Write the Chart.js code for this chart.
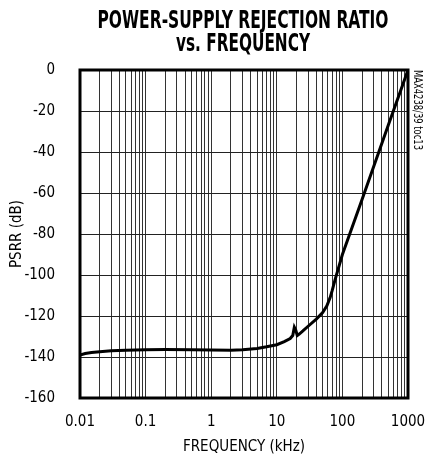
<!DOCTYPE html>
<html>
<head>
<meta charset="utf-8">
<script src="https://cdn.jsdelivr.net/npm/chart.js@4"></script>
<style>
  html, body { margin: 0; padding: 0; background: #fff; }
  #wrap { width: 426px; height: 462px; }
</style>
</head>
<body>
<div id="wrap"><canvas id="psrr" width="426" height="462"></canvas></div>
<script>
// PSRR vs frequency
const freqKHz = [0.01, 0.012, 0.015, 0.02, 0.03, 0.05, 0.1, 0.2, 0.5, 1, 2, 3, 5, 7, 10, 13, 16, 17.5, 18.5, 19.5, 20.5, 22, 25, 30, 40, 50, 58, 65, 70, 77, 100, 200, 500, 1000];
const psrrDb  = [-139, -138.3, -137.8, -137.4, -137, -136.7, -136.5, -136.4, -136.5, -136.6, -136.7, -136.5, -135.8, -135, -134, -132.5, -131, -129.5, -125.5, -127, -129.5, -128.8, -127.3, -125, -121.5, -118.3, -115, -111, -107.5, -102.5, -90, -63, -27, 0];

const decades = [0.01, 0.1, 1, 10, 100, 1000];
const xTickLabels = ['0.01', '0.1', '1', '10', '100', '1000'];
const yTicks = [0, -20, -40, -60, -80, -100, -120, -140, -160];

const titleLines = ['POWER-SUPPLY REJECTION RATIO', 'vs. FREQUENCY'];
const xTitle = 'FREQUENCY (kHz)';
const yTitle = 'PSRR (dB)';
const sideNote = 'MAX4238/39 toc13';

const NARROW = '"Liberation Sans Narrow", "DejaVu Sans Condensed", "Liberation Sans", sans-serif';

// grid lines at 1..9 x each decade
const gridFreqs = [];
decades.forEach((d, i) => {
  if (i === decades.length - 1) { gridFreqs.push(d); return; }
  for (let m = 1; m < 10; m++) gridFreqs.push(+(d * m).toPrecision(3));
});

const extras = {
  id: 'extras',
  afterDraw(chart) {
    const { ctx, chartArea: a } = chart;
    ctx.save();
    // frame
    ctx.strokeStyle = '#000';
    ctx.lineWidth = 3;
    ctx.strokeRect(a.left, a.top, a.right - a.left, a.bottom - a.top);
    // title
    ctx.fillStyle = '#000';
    ctx.textAlign = 'center';
    ctx.textBaseline = 'alphabetic';
    ctx.font = 'bold 25px ' + NARROW;
    ctx.fillText(titleLines[0], 243, 28, 291);
    ctx.fillText(titleLines[1], 243, 51, 134);
    // side note, rotated
    ctx.font = '12px ' + NARROW;
    ctx.translate(417, 70);
    ctx.rotate(Math.PI / 2);
    ctx.textAlign = 'left';
    ctx.textBaseline = 'middle';
    ctx.fillText(sideNote, 0, 0, 80);
    ctx.restore();
  }
};

new Chart(document.getElementById('psrr'), {
  type: 'scatter',
  data: {
    datasets: [{
      data: freqKHz.map((f, i) => ({ x: f, y: psrrDb[i] })),
      showLine: true,
      borderColor: '#000',
      borderWidth: 3,
      pointRadius: 0,
      tension: 0
    }]
  },
  options: {
    responsive: false,
    animation: false,
    layout: { padding: { left: 0, right: 18, top: 70, bottom: 0 } },
    plugins: { legend: { display: false }, tooltip: { enabled: false } },
    scales: {
      x: {
        type: 'logarithmic',
        min: 0.01,
        max: 1000,
        afterBuildTicks: s => { s.ticks = gridFreqs.map(v => ({ value: v })); },
        afterFit: s => { s.height = 64; s.paddingLeft = 0; s.paddingRight = 0; },
        grid: { color: '#333', lineWidth: 1, drawTicks: false },
        border: { display: false },
        ticks: {
          autoSkip: false,
          maxRotation: 0,
          padding: 15,
          color: '#000',
          font: { family: NARROW, size: 15 },
          callback: v => {
            const i = decades.findIndex(d => Math.abs(d - v) / d < 1e-6);
            return i >= 0 ? xTickLabels[i] : '';
          }
        },
        title: { display: true, text: xTitle, color: '#000', font: { family: NARROW, size: 15 }, padding: { top: 3, bottom: 6 } }
      },
      y: {
        min: -160,
        max: 0,
        afterBuildTicks: s => { s.ticks = yTicks.map(v => ({ value: v })); },
        afterFit: s => { s.width = 80; s.paddingTop = 0; s.paddingBottom = 0; },
        grid: { color: '#222', lineWidth: 1, drawTicks: false },
        border: { display: false },
        ticks: {
          padding: 25,
          color: '#000',
          font: { family: NARROW, size: 15 },
          callback: v => String(v)
        },
        title: { display: true, text: yTitle, color: '#000', font: { family: NARROW, size: 15 }, padding: { top: 8, bottom: 0 } }
      }
    }
  },
  plugins: [extras]
});
</script>
</body>
</html>
